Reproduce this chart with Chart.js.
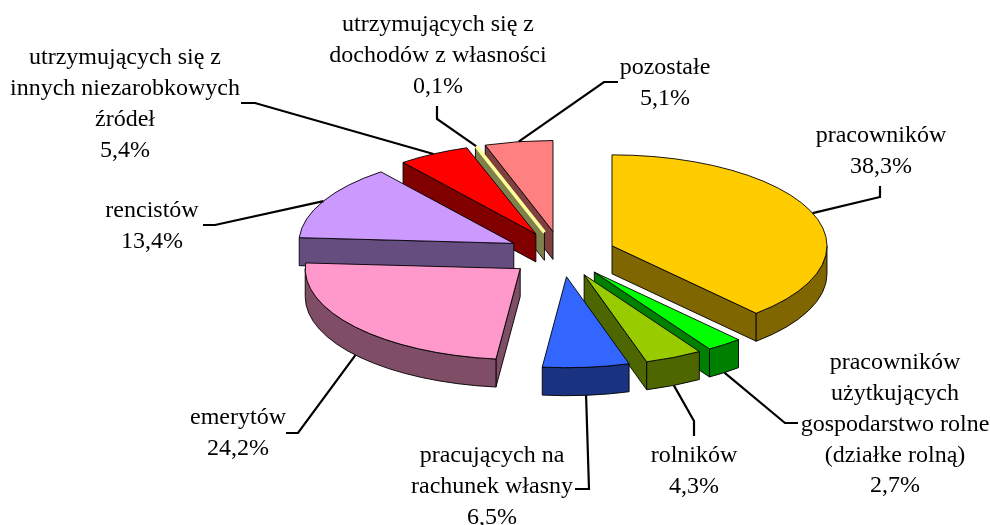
<!DOCTYPE html>
<html><head><meta charset="utf-8">
<style>html,body{margin:0;padding:0;background:#fff}#box{position:relative;width:990px;height:525px}</style>
<script src="https://cdn.jsdelivr.net/npm/chart.js@4"></script>
</head><body><div id="box"><canvas id="c" width="990" height="525"></canvas></div>
<script>
const categories = [
  ['pracowników'],
  ['pracowników','użytkujących','gospodarstwo rolne','(działke rolną)'],
  ['rolników'],
  ['pracujących na','rachunek własny'],
  ['emerytów'],
  ['rencistów'],
  ['utrzymujących się z','innych niezarobkowych','źródeł'],
  ['utrzymujących się z','dochodów z własności'],
  ['pozostałe']
];
const values = [38.3, 2.7, 4.3, 6.5, 24.2, 13.4, 5.4, 0.1, 5.1];
const topColors = ['#FFCC00','#00FF00','#99CC00','#3366FF','#FF99CC','#CC99FF','#FF0000','#FFFF99','#FF8080'];
const sideColors = ['#806600','#008000','#4D6600','#1A3380','#804D66','#664D80','#800000','#80804D','#804040'];

// layout of the drawing (not data)
const SQUASH = 0.423, DEPTH = 28, RADIUS = 215, EXPLODE = 54, THIN = 0.01;
const labelCenters = [[881,136],[895,363],[694,456],[492,456],[238,418],[152,211],[125,58],[438,25],[665,68]];
const leaderPaths = [
  [[880,197],[880,186]],
  [[785,423],[798,423]],
  [[694,421],[694,436]],
  [[589,489],[575,489]],
  [[298,433],[286,433]],
  [[215,225],[203,225]],
  [[255,103],[241,103]],
  [[437,119],[437,106]],
  [[604,82],[618,82]]
];
const LINE_H = 30.8;
const FONT = '24px "Liberation Serif"';

const fmt = v => v.toFixed(1).replace('.', ',') + '%';

function geom(el){
  const p = el.getProps(['x','y','startAngle','endAngle','outerRadius']);
  const mid = (p.startAngle + p.endAngle) / 2;
  const ex = Math.cos(mid) * EXPLODE, ey = Math.sin(mid) * EXPLODE;
  const pt = (a, r, z) => [p.x + ex + r * Math.cos(a), p.y + SQUASH * (ey + r * Math.sin(a)) + (z || 0)];
  return {p, mid, ex, ey, pt, r: p.outerRadius};
}
function ellipseArc(ctx, g, a0, a1, z, ccw){
  const c = g.pt(0, 0, z);
  ctx.ellipse(c[0], c[1], g.r, g.r * SQUASH, 0, a0, a1, !!ccw);
}
const pie3d = {
  id: 'pie3d',
  beforeDatasetsDraw(chart){
    const ctx = chart.ctx, els = chart.getDatasetMeta(0).data;
    const order = els.map((el,i)=>i).sort((a,b)=>
      Math.sin((els[a].startAngle+els[a].endAngle)/2) - Math.sin((els[b].startAngle+els[b].endAngle)/2));
    ctx.save();
    ctx.lineWidth = 0.9; ctx.strokeStyle = '#000'; ctx.lineJoin = 'round';
    order.forEach(i=>{
      const g = geom(els[i]), s = g.p.startAngle, e = g.p.endAngle;
      ctx.fillStyle = sideColors[i];
      // only the radial faces turned towards the viewer
      [[s, -Math.cos(s)], [e, Math.cos(e)]].forEach(([a, facing])=>{
        if (facing <= 0.001) return;
        ctx.beginPath();
        ctx.moveTo(...g.pt(0,0,0)); ctx.lineTo(...g.pt(a,g.r,0)); ctx.lineTo(...g.pt(a,g.r,DEPTH)); ctx.lineTo(...g.pt(0,0,DEPTH));
        ctx.closePath(); ctx.fill(); ctx.stroke();
      });
      for (const k of [-2,0,2]) {
        const lo = Math.max(s, k*Math.PI), hi = Math.min(e, k*Math.PI + Math.PI);
        if (hi > lo) {
          ctx.beginPath();
          ellipseArc(ctx, g, lo, hi, 0, false);
          ellipseArc(ctx, g, hi, lo, DEPTH, true);
          ctx.closePath(); ctx.fill(); ctx.stroke();
        }
      }
    });
    ctx.restore();
  },
  beforeDatasetDraw(chart){
    // draw the library's own arc elements through the oblique projection
    const ctx = chart.ctx, els = chart.getDatasetMeta(0).data;
    els.forEach(el=>{
      const g = geom(el);
      ctx.save();
      ctx.translate(0, g.p.y); ctx.scale(1, SQUASH); ctx.translate(0, -g.p.y);
      ctx.translate(g.ex, g.ey);
      el.draw(ctx);
      ctx.restore();
    });
    return false;
  },
  afterDatasetsDraw(chart){
    const ctx = chart.ctx, els = chart.getDatasetMeta(0).data;
    ctx.save();
    ctx.lineJoin = 'round';
    // a sliver too thin to see keeps a minimum visible width, in its own colour
    els.forEach((el,i)=>{
      const g = geom(el);
      if (g.p.endAngle - g.p.startAngle >= THIN * 2 * Math.PI) return;
      ctx.beginPath(); ctx.moveTo(...g.pt(0,0,0)); ctx.lineTo(...g.pt(g.mid,g.r,0));
      ctx.lineWidth = 3.4; ctx.lineCap = 'butt'; ctx.strokeStyle = topColors[i]; ctx.stroke();
    });
    ctx.lineWidth = 0.9; ctx.strokeStyle = '#000';
    els.forEach(el=>{
      const g = geom(el);
      if (g.p.endAngle - g.p.startAngle < THIN * 2 * Math.PI) return;
      ctx.beginPath(); ctx.moveTo(...g.pt(0,0,0));
      ellipseArc(ctx, g, g.p.startAngle, g.p.endAngle, 0, false);
      ctx.closePath(); ctx.stroke();
    });
    ctx.lineWidth = 2.2; ctx.lineJoin = 'miter';
    els.forEach((el,i)=>{
      const g = geom(el);
      const start = g.pt(g.mid, g.r, Math.sin(g.mid) > 0 ? DEPTH : 0);
      ctx.beginPath(); ctx.moveTo(...start);
      leaderPaths[i].forEach(q=>ctx.lineTo(q[0],q[1]));
      ctx.stroke();
    });
    ctx.fillStyle = '#000'; ctx.font = FONT; ctx.textAlign = 'center'; ctx.textBaseline = 'middle';
    categories.forEach((lines,i)=>{
      const [x,y] = labelCenters[i];
      lines.concat([fmt(values[i])]).forEach((t,n)=>ctx.fillText(t, x, y + n * LINE_H));
    });
    ctx.restore();
  }
};
new Chart(document.getElementById('c'), {
  type: 'pie',
  data: { labels: categories.map(l=>l.join(' ')),
    datasets: [{ data: values, backgroundColor: topColors, borderWidth: 0, clip: false }] },
  options: {
    responsive: false, animation: false, events: [],
    radius: RADIUS,
    layout: { padding: { left: 133.2, bottom: 17, top: 0, right: 0 } },
    plugins: { legend: { display: false }, tooltip: { enabled: false }, title: { display: false } }
  },
  plugins: [pie3d]
});
</script></body></html>
